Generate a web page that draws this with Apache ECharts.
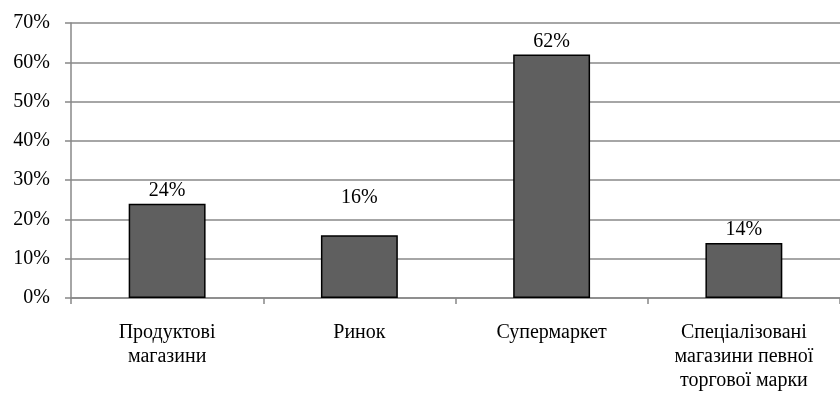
<!DOCTYPE html>
<html>
<head>
<meta charset="utf-8">
<script src="https://cdn.jsdelivr.net/npm/echarts@6/dist/echarts.min.js"></script>
<style>html,body{margin:0;padding:0;background:#fff}#c{width:840px;height:394px}</style>
</head>
<body>
<div id="c"></div>
<script>
var categories = ["Продуктові\nмагазини", "Ринок", "Супермаркет", "Спеціалізовані\nмагазини певної\nторгової марки"];
var values = [24, 16, 62, 14];
var labelOffsets = [0, -24, 0, 0];
var yMin = 0, yMax = 70, yStep = 10;

var chart = echarts.init(document.getElementById('c'), null, {renderer: 'canvas'});
var font = '"Liberation Serif", "Times New Roman", serif';
chart.setOption({
  animation: false,
  grid: {left: 71, top: 23, width: 775, height: 275, containLabel: false},
  xAxis: {
    type: 'category',
    data: categories,
    axisLine: {lineStyle: {color: '#888', width: 1.5}},
    axisTick: {show: true, length: 6, lineStyle: {color: '#888', width: 1.5}},
    axisLabel: {color: '#000', fontFamily: font, fontSize: 20, lineHeight: 24, margin: 23, interval: 0}
  },
  yAxis: {
    type: 'value',
    min: yMin, max: yMax, interval: yStep,
    axisLine: {show: true, lineStyle: {color: '#888', width: 1.5}},
    axisTick: {show: true, length: 6, lineStyle: {color: '#888', width: 1.5}},
    splitLine: {lineStyle: {color: '#888', width: 1.5}},
    axisLabel: {color: '#000', fontFamily: font, fontSize: 20, margin: 21, formatter: '{value}%'}
  },
  series: [{
    type: 'bar',
    barWidth: '40%',
    data: values.map(function (v, i) {
      return {value: v, label: {offset: [0, labelOffsets[i]]}};
    }),
    itemStyle: {color: '#5f5f5f', borderColor: '#000', borderWidth: 1.5},
    label: {show: true, position: 'top', distance: 3, color: '#000', fontFamily: font, fontSize: 20, formatter: '{c}%'}
  }]
});
</script>
</body>
</html>
